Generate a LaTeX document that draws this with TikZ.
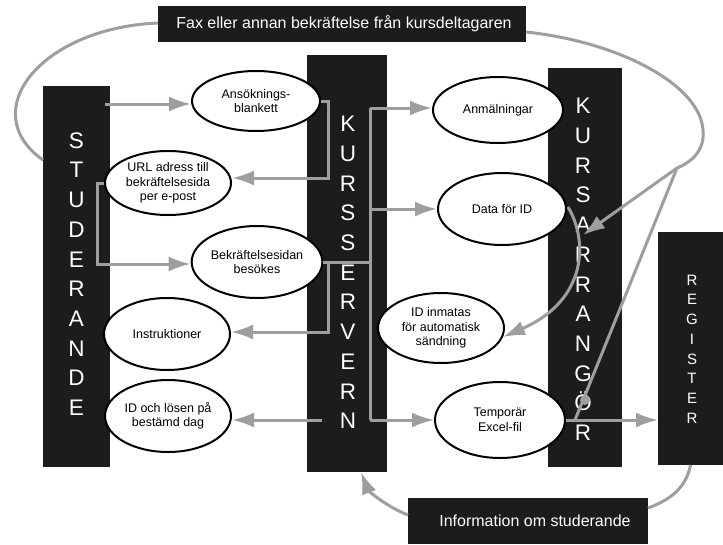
\documentclass[tikz,border=0pt]{standalone}
\usepackage{fontspec}
\setmainfont{Liberation Sans}
\usetikzlibrary{arrows.meta,shapes.geometric}
\definecolor{conncol}{RGB}{158,158,158}
\definecolor{boxblack}{RGB}{28,28,28}
\begin{document}
\begin{tikzpicture}[x=1pt,y=-1pt,
  blk/.style={fill=boxblack, draw=none, inner sep=0pt, outer sep=0pt},
  bigletters/.style={text=white, font=\fontsize{22.5}{29.7}\selectfont, align=center, inner sep=0pt},
  smallletters/.style={text=white, font=\fontsize{15}{19.7}\selectfont, align=center, inner sep=0pt},
  oval/.style={ellipse, draw=black, line width=2pt, fill=white, inner sep=0pt, font=\fontsize{12.5}{14.5}\selectfont, align=center},
  conn/.style={draw=conncol, line width=3pt},
  arr/.style={conn, -{Latex[length=22pt,width=15pt]}},
  bannertext/.style={text=white, font=\fontsize{16}{19}\selectfont, inner sep=0pt}
]
\useasboundingbox (0,0) rectangle (723,544);
\fill[white] (0,0) rectangle (723,544);

% black columns
\node[blk, minimum width=67pt, minimum height=381pt] (stud) at (76.5,276.5) {};
\node[blk, minimum width=80pt, minimum height=417pt] (serv) at (347,263.5) {};
\node[blk, minimum width=74pt, minimum height=399pt] (arrb) at (585,267.5) {};
\node[blk, minimum width=65pt, minimum height=233pt] (reg) at (690.5,348.5) {};

\node[bigletters] (studt) at (76.5,274) {S\\T\\U\\D\\E\\R\\A\\N\\D\\E};
\node[bigletters] (servt) at (348,272.5) {K\\U\\R\\S\\S\\E\\R\\V\\E\\R\\N};
\node[bigletters] (arrt) at (583,269.5) {K\\U\\R\\S\\A\\R\\R\\A\\N\\G\\Ö\\R};
\node[smallletters] (regt) at (692,349) {R\\E\\G\\I\\S\\T\\E\\R};

% ellipses
\node[oval, minimum width=128pt, minimum height=60pt] (ans) at (256,101) {Ansöknings-\\blankett};
\node[oval, minimum width=126pt, minimum height=64pt] (url) at (168,183) {URL adress till\\bekräftelsesida\\per e-post};
\node[oval, minimum width=128pt, minimum height=72pt] (bek) at (257,262) {Bekräftelsesidan\\besökes};
\node[oval, minimum width=126pt, minimum height=72pt] (ins) at (167,334) {Instruktioner};
\node[oval, minimum width=126pt, minimum height=72pt] (idl) at (168,416) {ID och lösen på\\bestämd dag};
\node[oval, minimum width=130pt, minimum height=66pt] (anm) at (498,110) {Anmälningar};
\node[oval, minimum width=128pt, minimum height=72pt] (dat) at (502,209) {Data för ID};
\node[oval, minimum width=126pt, minimum height=70pt] (idi) at (441,328) {ID inmatas\\för automatisk\\sändning};
\node[oval, minimum width=130pt, minimum height=76pt] (tmp) at (500,420) {Temporär\\Excel-fil};

% banners
\node[blk, minimum width=368pt, minimum height=36pt] (fax) at (342,24) {};
\node[bannertext] (faxt) at (344,24) {Fax eller annan bekräftelse från kursdeltagaren};
\node[blk, minimum width=240pt, minimum height=46pt] (info) at (528,521) {};
\node[bannertext] (infot) at (535,521) {Information om studerande};

% coordinates
\coordinate (s1) at (105,104);
\coordinate (b1) at (328,178);
\coordinate (b2) at (97,264);
\coordinate (b3) at (328,332);
\coordinate (v1) at (370,108);
\coordinate (v2) at (370,420);
\coordinate (v3) at (370,209);
\coordinate (s2) at (322,420);
\coordinate (i1) at (648,508);
\coordinate (i2) at (408,515);
\coordinate (l1) at (43,160);
\coordinate (f0) at (158,23);
\coordinate (f1) at (526,32);
\coordinate (fork) at (677,168);
\coordinate (a1) at (583,235);
\coordinate (t1) at (575,420);
\coordinate (d1) at (568,207);
\coordinate (d2) at (503,337);
\coordinate (sv) at (361,472);

% connectors
\draw[arr] (s1) -- (s1 -| ans.west);
\draw[arr] (ans.east) -| (b1) -- (b1 -| url.east);
\draw[arr] (url.west) -| (b2) -- (b2 -| bek.west);
\draw[conn] (bek.east) -- (bek.east -| v1);
\draw[arr] (bek.east -| b3) -- (b3) -- (b3 -| ins.east);
\draw[conn] (v1) -- (v2);
\draw[arr] (v1) -- (v1 -| anm.west);
\draw[arr] (v3) -- (dat.west);
\draw[arr] (v2) -- (tmp.west);
\draw[arr] (s2) -- (s2 -| idl.east);
\draw[arr] (tmp.east) -- (tmp.east -| reg.west);
\draw[conn] (reg.south) .. controls (686,488) and (670,500) .. (i1);
\draw[arr] (i2) .. controls (385,506) and (368,490) .. (sv);
\draw[conn] (l1) .. controls (-25,112) and (40,28) .. (f0);
\draw[conn] (f1) .. controls (620,42) and (700,85) .. (703,130) .. controls (705,150) and (692,162) .. (fork);
\draw[arr] (fork) -- (a1);
\draw[conn] (fork) -- (t1);
\fill[conncol] (585,400) circle (5);
\draw[arr] (d1) .. controls (588,240) and (588,300) .. (d2);
\end{tikzpicture}
\end{document}
